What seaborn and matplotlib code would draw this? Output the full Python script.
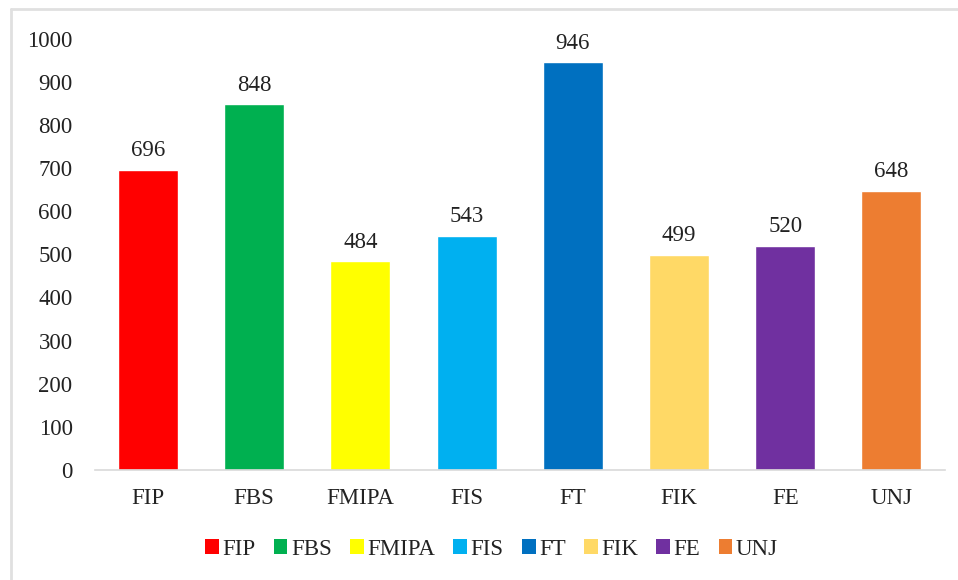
import matplotlib
matplotlib.use("Agg")
import matplotlib.pyplot as plt
from matplotlib.lines import Line2D
from matplotlib.patches import Patch
import seaborn as sns
import pandas as pd

categories = ["FIP", "FBS", "FMIPA", "FIS", "FT", "FIK", "FE", "UNJ"]
values = [696, 848, 484, 543, 946, 499, 520, 648]
colors = ["#FF0000", "#00B050", "#FFFF00", "#00B0F0", "#0070C0", "#FFD966", "#7030A0", "#ED7D31"]

df = pd.DataFrame({"cat": categories, "val": values})

sns.set_style("white")
plt.rcParams["font.family"] = ["Liberation Serif", "DejaVu Serif"]

fig = plt.figure(figsize=(9.58, 5.8), dpi=100)
ax = fig.add_axes([0.099, 0.19, 0.887, 0.743])

sns.barplot(data=df, x="cat", y="val", hue="cat", palette=colors, order=categories,
            hue_order=categories, width=0.565, legend=False, saturation=1, ax=ax)

for i, v in enumerate(values):
    ax.text(i, v + 20, str(v), ha="center", va="bottom", fontsize=16.5, color="#222222")

ax.set_ylim(0, 1000)
ax.set_yticks(range(0, 1001, 100))
ax.set_xlim(-0.5, len(categories) - 0.5)
ax.set_xlabel("")
ax.set_ylabel("")
ax.tick_params(axis="both", length=0, labelsize=16.5, colors="#222222")
ax.tick_params(axis="x", pad=13)
ax.tick_params(axis="y", pad=16)
for s in ["top", "right", "left"]:
    ax.spines[s].set_visible(False)
ax.spines["bottom"].set_color("#D9D9D9")
ax.spines["bottom"].set_linewidth(1.2)

handles = [Patch(facecolor=c, edgecolor="none") for c in colors]
fig.legend(handles, categories, loc="center", bbox_to_anchor=(0.513, 0.053), ncol=8,
           frameon=False, fontsize=16.5, handlelength=0.6, handleheight=0.6,
           handletextpad=0.15, columnspacing=0.8, labelcolor="#222222")

# light outer border like the source image
fig.add_artist(Line2D([0.011, 0.011], [0, 0.985], color="#E0E0E0", lw=2, transform=fig.transFigure))
fig.add_artist(Line2D([0.011, 1.0], [0.985, 0.985], color="#E0E0E0", lw=2, transform=fig.transFigure))

fig.savefig("out.png", dpi=100)
